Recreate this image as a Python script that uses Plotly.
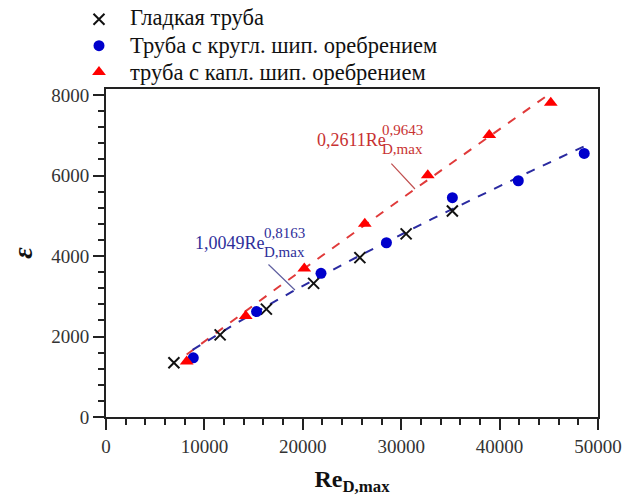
import numpy as np
import plotly.graph_objects as go

# ---- data ----
smooth_re = [6900, 11600, 16300, 21100, 25800, 30500, 35200]
smooth_eps = [1350, 2040, 2680, 3320, 3960, 4550, 5120]

round_re = [8870, 15300, 21850, 28500, 35200, 41900, 48600]
round_eps = [1470, 2620, 3570, 4330, 5450, 5870, 6550]

drop_re = [8200, 14200, 20150, 26300, 32700, 38950, 45200]
drop_eps = [1380, 2510, 3690, 4800, 6010, 7010, 7810]

# fitted correlations shown on the chart: eps = C * Re^n
red_C, red_n = 0.2611, 0.9643
blue_C, blue_n = 1.0049, 0.8163
red_fit_range = [8200, 44900]
blue_fit_range = [8800, 48600]

legend_names = ["Гладкая труба", "Труба с кругл. шип. оребрением", "труба с капл. шип. оребрением"]

x_ticks = [0, 10000, 20000, 30000, 40000, 50000]
y_ticks = [0, 2000, 4000, 6000, 8000]

SERIF = "Liberation Serif"
RED = "#ff0000"
RED_LINE = "#e03a3a"
BLUE = "#0000cc"
BLUE_LINE = "#2a2aa0"

fig = go.Figure()

rx = np.linspace(red_fit_range[0], red_fit_range[1], 60)
bx = np.linspace(blue_fit_range[0], blue_fit_range[1], 60)
fig.add_trace(go.Scatter(x=rx, y=red_C * rx ** red_n, mode="lines",
                         line=dict(color=RED_LINE, width=2, dash="dash"), showlegend=False, hoverinfo="skip"))
fig.add_trace(go.Scatter(x=bx, y=blue_C * bx ** blue_n, mode="lines",
                         line=dict(color=BLUE_LINE, width=2, dash="dash"), showlegend=False, hoverinfo="skip"))

# legend shows only the symbols; the labels are placed as annotations next to them
fig.add_trace(go.Scatter(x=smooth_re, y=smooth_eps, mode="markers", name=" ",
                         marker=dict(symbol="x-thin", size=11, line=dict(color="#111111", width=2))))
fig.add_trace(go.Scatter(x=round_re, y=round_eps, mode="markers", name=" ",
                         marker=dict(symbol="circle", size=11, color=BLUE)))
fig.add_trace(go.Scatter(x=drop_re, y=drop_eps, mode="markers", name=" ",
                         marker=dict(symbol="triangle-up", size=12, color=RED)))

axis_common = dict(
    showline=True, linecolor="#222222", linewidth=2, mirror=True,
    ticks="outside", ticklen=11, tickwidth=2, tickcolor="#222222",
    showgrid=False, zeroline=False,
    tickfont=dict(family=SERIF, size=19, color="#333333"),
)
fig.update_xaxes(range=[0, 50000], tickvals=x_ticks, ticktext=[str(v) for v in x_ticks],
                 minor=dict(dtick=2000, ticklen=6, tickwidth=1.5, tickcolor="#222222", ticks="outside"),
                 title=dict(text="<b>Re<sub>D,max</sub></b>", font=dict(family=SERIF, size=24, color="#111111"),
                            standoff=14),
                 **axis_common)
fig.update_yaxes(range=[0, 8150], tickvals=y_ticks, ticktext=[str(v) for v in y_ticks],
                 minor=dict(dtick=400, ticklen=6, tickwidth=1.5, tickcolor="#222222", ticks="outside"),
                 **axis_common)

ann = []
# legend labels
legend_rows_y = [1.2165, 1.1311, 1.0488]
for name, yy in zip(legend_names, legend_rows_y):
    ann.append(dict(text=name, xref="paper", yref="paper", x=0.0447, y=yy,
                    xanchor="left", yanchor="middle", showarrow=False,
                    font=dict(family=SERIF, size=22.5, color="#111111")))
# y title
ann.append(dict(text="<b><i>ε</i></b>", xref="paper", yref="paper", x=-0.171, y=0.5,
                xanchor="center", yanchor="middle", textangle=-90, showarrow=False,
                font=dict(family=SERIF, size=28, color="#111111")))
# leader lines
ann.append(dict(x=31400, y=5665, ax=28860, ay=6335, xref="x", yref="y", axref="x", ayref="y",
                showarrow=True, arrowhead=0, arrowwidth=1.2, arrowcolor="#c05050", text=""))
ann.append(dict(x=19200, y=3155, ax=16360, ay=3826, xref="x", yref="y", axref="x", ayref="y",
                showarrow=True, arrowhead=0, arrowwidth=1.2, arrowcolor="#6060a0", text=""))
# red formula
RED_T = "#c83232"
ann.append(dict(text="0,2611Re", x=21240, y=6882, xref="x", yref="y", xanchor="left", yanchor="middle",
                showarrow=False, font=dict(family=SERIF, size=18, color=RED_T)))
ann.append(dict(text="0,9643", x=27850, y=7130, xref="x", yref="y", xanchor="left", yanchor="middle",
                showarrow=False, font=dict(family=SERIF, size=15, color=RED_T)))
ann.append(dict(text="D,max", x=27850, y=6658, xref="x", yref="y", xanchor="left", yanchor="middle",
                showarrow=False, font=dict(family=SERIF, size=15, color=RED_T)))
# blue formula
BLUE_T = "#2e2e9a"
ann.append(dict(text="1,0049Re", x=8842, y=4323, xref="x", yref="y", xanchor="left", yanchor="middle",
                showarrow=False, font=dict(family=SERIF, size=18, color=BLUE_T)))
ann.append(dict(text="0,8163", x=15854, y=4571, xref="x", yref="y", xanchor="left", yanchor="middle",
                showarrow=False, font=dict(family=SERIF, size=15, color=BLUE_T)))
ann.append(dict(text="D,max", x=15854, y=4099, xref="x", yref="y", xanchor="left", yanchor="middle",
                showarrow=False, font=dict(family=SERIF, size=15, color=BLUE_T)))

fig.update_layout(
    width=633, height=501,
    margin=dict(l=106, r=35, t=89, b=84, autoexpand=False),
    paper_bgcolor="white", plot_bgcolor="white",
    font=dict(family=SERIF),
    annotations=ann,
    legend=dict(x=-0.0549, y=1.268, xanchor="left", yanchor="top",
                font=dict(family=SERIF, size=18, color="#111111"),
                bgcolor="rgba(0,0,0,0)", tracegroupgap=0, itemwidth=30),
)

fig.write_html("out.html")
